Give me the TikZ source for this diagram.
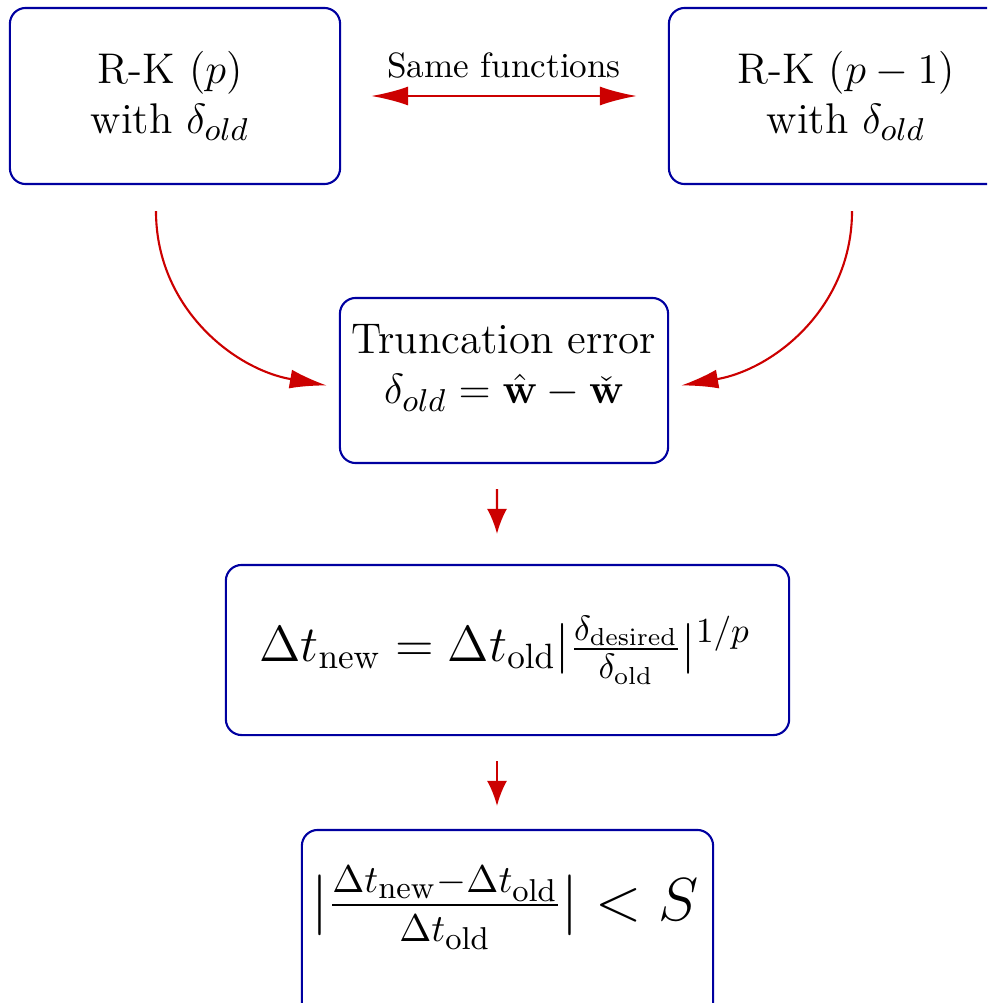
\documentclass[tikz,border=0pt]{standalone}
\usepackage{amsmath}
\usetikzlibrary{arrows.meta,calc}
\definecolor{boxblue}{RGB}{0,0,160}
\definecolor{arrred}{RGB}{204,0,0}
\DeclareMathSizes{12.2}{12.2}{8.6}{6.1}
\DeclareMathSizes{16.3}{16.3}{11.4}{9.4}
\begin{document}
\begin{tikzpicture}[x=0.01cm,y=0.01cm,
  box/.style={draw=boxblue, line width=0.6pt, rounded corners=4.5pt, fill=white, inner sep=0pt},
  txt/.style={align=center, font=\fontsize{12.2}{14.3}\selectfont, inner sep=0pt},
  arr/.style={draw=arrred, line width=0.6pt, -{Latex[length=0.37cm,width=0.19cm]}},
  darr/.style={draw=arrred, line width=0.6pt, {Latex[length=0.37cm,width=0.19cm]}-{Latex[length=0.37cm,width=0.19cm]}},
  varr/.style={draw=arrred, line width=0.6pt, -{Latex[length=0.25cm,width=0.2cm]}}]
\useasboundingbox (0,0) rectangle (987,-1003);
\clip (0,0) rectangle (987,-1003);

% boxes
\node[box, minimum width=3.3cm, minimum height=1.76cm] (rkp) at (175,-96) {};
\node[txt] (rkpt) at (170,-96) {R-K ($p$)\\ with $\delta_{old}$};

\node[box, minimum width=3.42cm, minimum height=1.76cm] (rk1) at (840,-96) {};
\node[txt] (rk1t) at (846,-96) {R-K ($p-1$)\\ with $\delta_{old}$};

\node[box, minimum width=3.28cm, minimum height=1.65cm] (mid) at (504,-380.5) {};
\node[txt] (midt) at (504,-368) {Truncation error\\ $\delta_{old} = \hat{\mathbf{w}} - \check{\mathbf{w}}$};

\node[box, minimum width=5.63cm, minimum height=1.70cm] (dt) at (507.5,-650) {};
\node[txt, font=\Large] (dtt) at (505,-650)
  {$\Delta t_{\mathrm{new}} = \Delta t_{\mathrm{old}}|\frac{\delta_{\mathrm{desired}}}{\delta_{\mathrm{old}}}|^{1/p}$};

\node[box, minimum width=4.11cm, minimum height=1.9cm] (bot) at (507.5,-925) {};
\node[txt, font=\fontsize{16.3}{20}\selectfont] (bott) at (505,-908)
  {$|\frac{\Delta t_{\mathrm{new}}-\Delta t_{\mathrm{old}}}{\Delta t_{\mathrm{old}}}| < S$};

% connectors
\draw[darr] ([xshift=0.3cm]rkp.east) -- ([xshift=-0.31cm]rk1.west)
  node[midway, above=1.5pt, inner sep=3.33pt, font=\normalsize] (same) {Same functions};

\draw[arr] ([xshift=-0.19cm,yshift=-0.26cm]rkp.south) to[out=-90,in=170] ([xshift=-0.12cm,yshift=-0.05cm]mid.west);
\draw[arr] ([xshift=0.12cm,yshift=-0.26cm]rk1.south) to[out=-90,in=10] ([xshift=0.12cm,yshift=-0.05cm]mid.east);

\draw[varr] ([xshift=-0.07cm,yshift=-0.25cm]mid.south) -- ([xshift=-0.105cm,yshift=0.3cm]dt.north);
\draw[varr] ([xshift=-0.105cm,yshift=-0.25cm]dt.south) -- ([xshift=-0.105cm,yshift=0.23cm]bot.north);
\end{tikzpicture}
\end{document}
